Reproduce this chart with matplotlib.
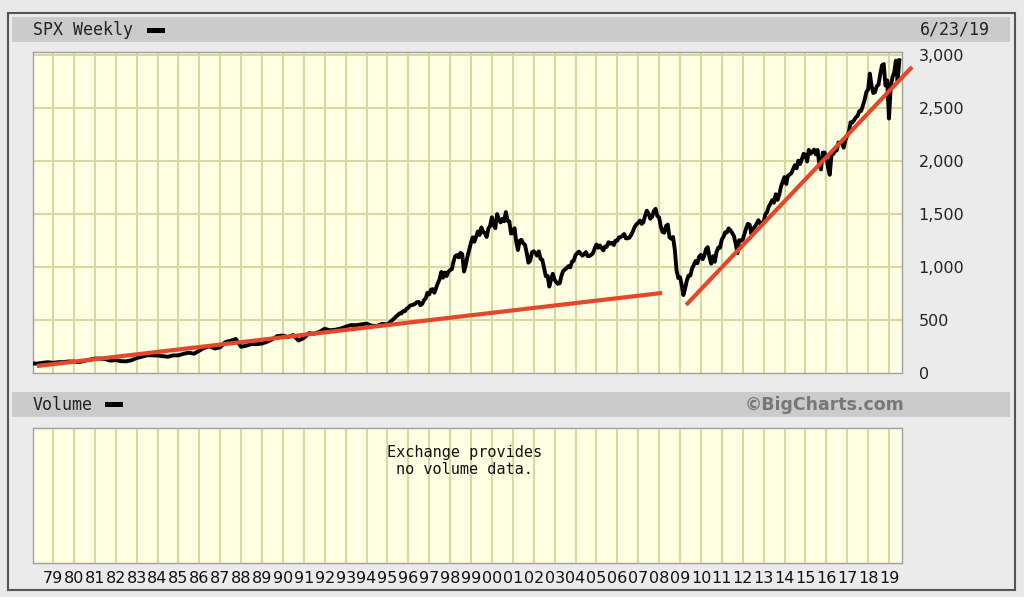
import matplotlib
matplotlib.use("Agg")
import matplotlib.pyplot as plt
import numpy as np
import pandas as pd
from matplotlib.patches import Rectangle

# ---------------- data ----------------
# quarter-end closes 1977-12 .. 1994-12
early_values = [
    89,
    89, 96, 102, 96,
    102, 103, 109, 108,
    102, 115, 125, 136,
    136, 131, 116, 122,
    112, 110, 120, 141,
    153, 168, 166, 165,
    159, 153, 166, 167,
    181, 192, 182, 211,
    238, 251, 231, 242,
    292, 304, 321, 247,
    258, 273, 272, 278,
    295, 318, 349, 353,
    339, 358, 306, 330,
    375, 371, 388, 417,
    403, 408, 418, 436,
    452, 451, 459, 466,
    446, 444, 463, 459,
]
# month-end closes 1995-01 .. 2019-06
late_values = [
    470, 487, 501, 515, 533, 545, 562, 562, 584, 582, 605, 616,
    636, 640, 645, 654, 669, 671, 640, 652, 687, 705, 757, 741,
    786, 791, 757, 801, 848, 885, 954, 899, 947, 915, 955, 970,
    980, 1049, 1102, 1112, 1091, 1134, 1121, 957, 1017, 1099, 1164, 1229,
    1280, 1238, 1286, 1335, 1302, 1373, 1329, 1320, 1283, 1363, 1389, 1469,
    1394, 1366, 1499, 1452, 1421, 1455, 1431, 1518, 1437, 1429, 1315, 1320,
    1366, 1240, 1160, 1249, 1256, 1224, 1211, 1134, 1041, 1060, 1139, 1148,
    1130, 1107, 1147, 1077, 1067, 990, 912, 916, 815, 886, 936, 880,
    856, 841, 848, 917, 964, 975, 990, 1008, 996, 1051, 1058, 1112,
    1131, 1145, 1126, 1107, 1121, 1141, 1102, 1104, 1115, 1130, 1174, 1212,
    1181, 1204, 1181, 1157, 1192, 1191, 1234, 1220, 1229, 1207, 1249, 1248,
    1280, 1281, 1295, 1311, 1270, 1270, 1277, 1304, 1336, 1378, 1401, 1418,
    1438, 1407, 1421, 1482, 1531, 1503, 1455, 1474, 1527, 1549, 1481, 1468,
    1379, 1331, 1323, 1386, 1400, 1280, 1267, 1283, 1166, 969, 896, 903,
    826, 735, 798, 873, 919, 919, 987, 1021, 1057, 1036, 1096, 1115,
    1074, 1104, 1169, 1187, 1089, 1031, 1102, 1049, 1141, 1183, 1181, 1258,
    1286, 1327, 1326, 1364, 1345, 1321, 1292, 1219, 1131, 1253, 1247, 1258,
    1312, 1366, 1408, 1398, 1310, 1362, 1379, 1407, 1441, 1412, 1416, 1426,
    1498, 1515, 1569, 1598, 1631, 1606, 1686, 1633, 1682, 1757, 1806, 1848,
    1783, 1859, 1872, 1884, 1924, 1960, 1931, 2003, 1972, 2018, 2068, 2059,
    1995, 2105, 2068, 2086, 2107, 2063, 2104, 1972, 1920, 2079, 2080, 2044,
    1940, 1870, 2060, 2065, 2097, 2099, 2174, 2171, 2168, 2126, 2199, 2239,
    2279, 2364, 2363, 2384, 2412, 2423, 2470, 2472, 2519, 2575, 2648, 2674,
    2824, 2714, 2641, 2648, 2705, 2718, 2816, 2902, 2914, 2712, 2760, 2400,
    2704, 2784, 2834, 2946, 2752, 2950,
]
early_dates = pd.date_range("1977-12-31", periods=len(early_values), freq="QE")
late_dates = pd.date_range("1995-01-31", periods=len(late_values), freq="ME")

# red trend lines (year, value)
trend1_x = [1978.23, 2008.14]
trend1_y = [66, 755]
trend2_x = [2009.29, 2020.1]
trend2_y = [642, 2887]

years = list(range(1979, 2020))
year_labels = [f"{y % 100:02d}" for y in years]
price_ticks = [0, 500, 1000, 1500, 2000, 2500, 3000]
price_labels = ["0", "500", "1,000", "1,500", "2,000", "2,500", "3,000"]


def to_dec(d):
    return d.year + (d.dayofyear - 1) / 365.25


dates = early_dates.append(late_dates)
xs = np.asarray(to_dec(dates), dtype=float)
ys = np.array(early_values + late_values, dtype=float)

# ---------------- figure ----------------
W, H = 1024, 597
fig = plt.figure(figsize=(W / 100, H / 100), dpi=100)
fig.patch.set_facecolor("#e9e9e9")


def fx(px):
    return px / W


def fy(py):
    return 1 - py / H


# outer frame
fig.add_artist(Rectangle((fx(8), fy(590)), fx(1007), (590 - 13) / H,
                         transform=fig.transFigure, facecolor="#ebebeb",
                         edgecolor="#555555", lw=1.5, zorder=0))
# header bars
for top in (17, 392):
    fig.add_artist(Rectangle((fx(12), fy(top + 25)), fx(998), 25 / H,
                             transform=fig.transFigure, facecolor="#cbcbcb",
                             edgecolor="none", zorder=1))

bg = "#ffffe3"
gridc = "#d8d8a2"
XL = (1978.04, 2019.62)

ax = fig.add_axes([fx(33), fy(373), fx(869), 321 / H])
ax.set_facecolor(bg)
ax.set_xlim(*XL)
ax.set_ylim(0, 3028)
for y in years:
    ax.axvline(y, color=gridc, lw=1.5, zorder=1)
for p in price_ticks[1:]:
    ax.axhline(p, color=gridc, lw=1.5, zorder=1)
ax.plot(xs, ys, color="black", lw=2.8, zorder=3)
ax.plot(trend1_x, trend1_y, color="#e6462a", lw=3, zorder=4, clip_on=False,
        solid_capstyle="butt")
ax.plot(trend2_x, trend2_y, color="#e6462a", lw=3, zorder=4, clip_on=False,
        solid_capstyle="butt")
ax.set_xticks([])
ax.yaxis.tick_right()
ax.set_yticks(price_ticks)
ax.set_yticklabels(price_labels, fontsize=11.5, color="#222222")
ax.tick_params(axis="y", length=0, pad=12)
for s in ax.spines.values():
    s.set_color("#a0a0a0")
    s.set_linewidth(1)

axv = fig.add_axes([fx(33), fy(563), fx(869), 135 / H])
axv.set_facecolor(bg)
axv.set_xlim(*XL)
axv.set_ylim(0, 1)
for y in years:
    axv.axvline(y, color=gridc, lw=1.5, zorder=1)
axv.set_yticks([])
axv.set_xticks(years)
axv.set_xticklabels(year_labels, fontsize=11.5, color="#111111")
axv.tick_params(axis="x", length=0, pad=6)
for s in axv.spines.values():
    s.set_color("#a0a0a0")
    s.set_linewidth(1)
axv.text(0.497, 0.755, "Exchange provides\nno volume data.", transform=axv.transAxes,
         ha="center", va="center", family="DejaVu Sans Mono", fontsize=11,
         color="#111111", linespacing=1.15)

# header texts
fig.text(fx(33), fy(30), "SPX Weekly", family="DejaVu Sans Mono", fontsize=12,
         va="center", ha="left", color="#222222")
fig.add_artist(Rectangle((fx(147), fy(33)), fx(18), 5 / H, transform=fig.transFigure,
                         facecolor="black", edgecolor="none", zorder=5))
fig.text(fx(990), fy(30), "6/23/19", family="DejaVu Sans Mono", fontsize=12,
         va="center", ha="right", color="#222222")
fig.text(fx(33), fy(405), "Volume", family="DejaVu Sans Mono", fontsize=12,
         va="center", ha="left", color="#222222")
fig.add_artist(Rectangle((fx(105), fy(407)), fx(18), 5 / H, transform=fig.transFigure,
                         facecolor="black", edgecolor="none", zorder=5))
fig.text(fx(904), fy(405), "\u00a9BigCharts.com", fontsize=12.5, fontweight="bold",
         va="center", ha="right", color="#777777")

fig.savefig("out.png", dpi=100, facecolor=fig.get_facecolor())
